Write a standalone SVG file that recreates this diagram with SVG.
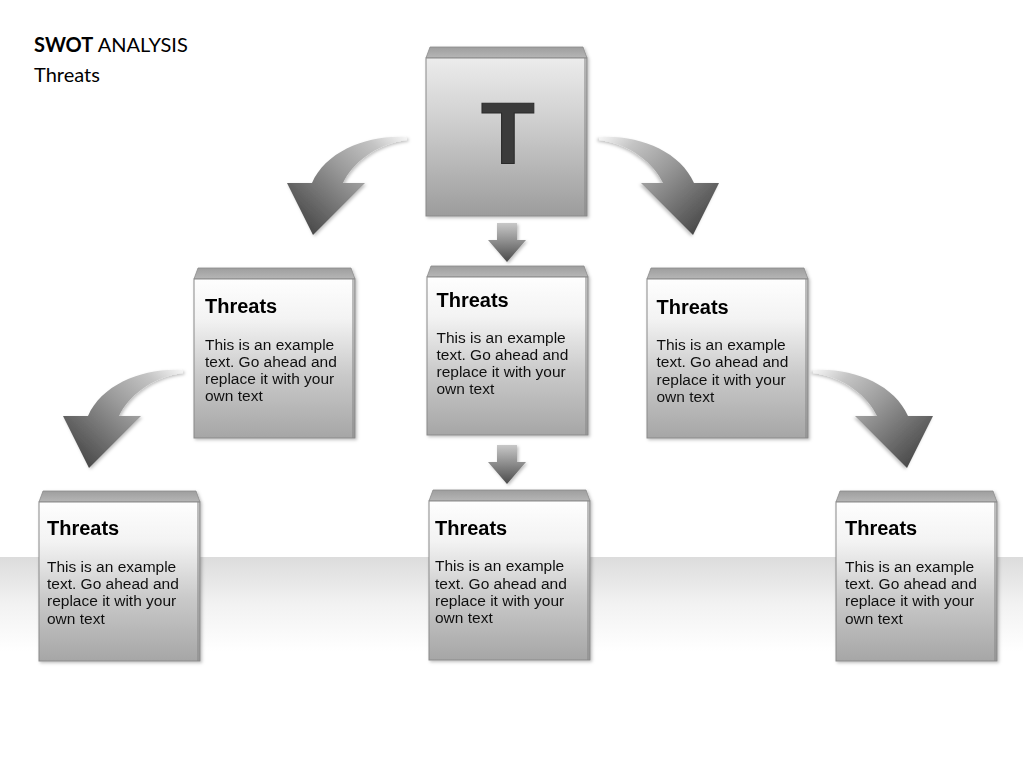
<svg xmlns="http://www.w3.org/2000/svg" xmlns:xlink="http://www.w3.org/1999/xlink" width="1023" height="767" viewBox="0 0 1023 767">
  <defs>
    <linearGradient id="band" x1="0" y1="0" x2="0" y2="1">
      <stop offset="0" stop-color="#dcdcdc"/>
      <stop offset="0.5" stop-color="#f2f2f2"/>
      <stop offset="1" stop-color="#ffffff"/>
    </linearGradient>
    <linearGradient id="front" x1="0" y1="0" x2="0" y2="1">
      <stop offset="0" stop-color="#fefefe"/>
      <stop offset="0.25" stop-color="#f3f3f3"/>
      <stop offset="0.6" stop-color="#cacaca"/>
      <stop offset="1" stop-color="#a6a6a6"/>
    </linearGradient>
    <linearGradient id="frontBig" x1="0" y1="0" x2="0" y2="1">
      <stop offset="0" stop-color="#ececec"/>
      <stop offset="0.4" stop-color="#cfcfcf"/>
      <stop offset="1" stop-color="#9c9c9c"/>
    </linearGradient>
    <linearGradient id="topFace" x1="0" y1="0" x2="0" y2="1">
      <stop offset="0" stop-color="#9e9e9e"/>
      <stop offset="1" stop-color="#b6b6b6"/>
    </linearGradient>
    <linearGradient id="curveGrad" gradientUnits="userSpaceOnUse" x1="405" y1="137" x2="313" y2="235">
      <stop offset="0" stop-color="#f4f4f4"/>
      <stop offset="0.2" stop-color="#c4c4c4"/>
      <stop offset="0.5" stop-color="#9a9a9a"/>
      <stop offset="1" stop-color="#4a4a4a"/>
    </linearGradient>
    <linearGradient id="downGrad" x1="0" y1="0" x2="0" y2="1">
      <stop offset="0" stop-color="#c8c8c8"/>
      <stop offset="0.45" stop-color="#909090"/>
      <stop offset="1" stop-color="#4a4a4a"/>
    </linearGradient>
    <filter id="shadow" x="-10%" y="-10%" width="130%" height="130%">
      <feDropShadow dx="1.5" dy="1.5" stdDeviation="1.5" flood-color="#000" flood-opacity="0.25"/>
    </filter>
    <path id="curveArrow" d="M407,137 C370,134 326,150 312,183 L287,183 L313,235 L365,183 L343,183 C352,164 375,144 407,140 Z"/>
    <path id="downArrow" d="M497,0 L517,0 L517,17 L526,17 L507,39 L488,17 L497,17 Z"/>
    <style>
      .top { fill: url(#topFace); stroke: #8c8c8c; stroke-width: 0.8; }
      .front { fill: url(#front); stroke: #8a8a8a; stroke-width: 1; }
      .edge { fill: #888; opacity: 0.55; }
      .h { font-family: "Liberation Sans", Arial, sans-serif; font-weight: bold; font-size: 20px; fill: #000; }
      .b { font-family: "Liberation Sans", Arial, sans-serif; font-size: 15.5px; fill: #111; }
      .ttl { font-family: Lato, "Open Sans", sans-serif; font-size: 20px; fill: #000; }
      .carrow { fill: url(#curveGrad); filter: url(#shadow); }
      .darrow { fill: url(#downGrad); filter: url(#shadow); }
    </style>
  </defs>

  <rect x="0" y="0" width="1023" height="767" fill="#ffffff"/>
  <rect x="0" y="557" width="1023" height="95" fill="url(#band)"/>

  <g id="title">
    <text class="ttl" x="34" y="52"><tspan font-weight="bold">SWOT</tspan> ANALYSIS</text>
    <text class="ttl" x="34" y="82">Threats</text>
  </g>

  <g id="connectors">
    <use xlink:href="#curveArrow" class="carrow"/>
    <use xlink:href="#curveArrow" class="carrow" transform="translate(1006,0) scale(-1,1)"/>
    <use xlink:href="#curveArrow" class="carrow" transform="translate(-224,233)"/>
    <use xlink:href="#curveArrow" class="carrow" transform="translate(1220,233) scale(-1,1)"/>
    <use xlink:href="#downArrow" class="darrow" transform="translate(0,223)"/>
    <use xlink:href="#downArrow" class="darrow" transform="translate(0,445)"/>
  </g>

  <g id="node-T" filter="url(#shadow)">
    <polygon class="top" points="430,47 583,47 587,58 426,58"/>
    <rect x="426" y="58" width="161" height="158" fill="url(#frontBig)" stroke="#8a8a8a" stroke-width="1"/>
    <rect class="edge" x="584" y="58" width="3" height="158"/>
    <text x="508" y="163" text-anchor="middle" font-family="Liberation Sans, Arial, sans-serif" font-weight="bold" font-size="88" fill="#3a3a3a" stroke="#2a2a2a" stroke-width="1">T</text>
  </g>

  <g id="node-mid-left" filter="url(#shadow)">
    <polygon class="top" points="198,268 351,268 355,279 194,279"/>
    <rect class="front" x="194" y="279" width="161" height="159"/>
    <rect class="edge" x="352" y="279" width="3" height="159"/>
    <text class="h" x="205" y="313">Threats</text>
    <text class="b" x="205" y="349.5">This is an example</text>
    <text class="b" x="205" y="366.8">text. Go ahead and</text>
    <text class="b" x="205" y="384.1">replace it with your</text>
    <text class="b" x="205" y="401.4">own text</text>
  </g>

  <g id="node-mid" filter="url(#shadow)">
    <polygon class="top" points="431,266 584,266 588,277 427,277"/>
    <rect class="front" x="427" y="277" width="161" height="158"/>
    <rect class="edge" x="585" y="277" width="3" height="158"/>
    <text class="h" x="436.5" y="306.7">Threats</text>
    <text class="b" x="436.5" y="342.5">This is an example</text>
    <text class="b" x="436.5" y="359.8">text. Go ahead and</text>
    <text class="b" x="436.5" y="377.1">replace it with your</text>
    <text class="b" x="436.5" y="394.4">own text</text>
  </g>

  <g id="node-mid-right" filter="url(#shadow)">
    <polygon class="top" points="651,268 804,268 808,279 647,279"/>
    <rect class="front" x="647" y="279" width="161" height="159"/>
    <rect class="edge" x="805" y="279" width="3" height="159"/>
    <text class="h" x="656.5" y="314">Threats</text>
    <text class="b" x="656.5" y="350">This is an example</text>
    <text class="b" x="656.5" y="367.3">text. Go ahead and</text>
    <text class="b" x="656.5" y="384.6">replace it with your</text>
    <text class="b" x="656.5" y="401.9">own text</text>
  </g>

  <g id="node-bottom-left" filter="url(#shadow)">
    <polygon class="top" points="43,491 196,491 200,502 39,502"/>
    <rect class="front" x="39" y="502" width="161" height="159"/>
    <rect class="edge" x="197" y="502" width="3" height="159"/>
    <text class="h" x="47" y="535">Threats</text>
    <text class="b" x="47" y="571.7">This is an example</text>
    <text class="b" x="47" y="589">text. Go ahead and</text>
    <text class="b" x="47" y="606.3">replace it with your</text>
    <text class="b" x="47" y="623.6">own text</text>
  </g>

  <g id="node-bottom-mid" filter="url(#shadow)">
    <polygon class="top" points="433,490 586,490 590,501 429,501"/>
    <rect class="front" x="429" y="501" width="161" height="159"/>
    <rect class="edge" x="587" y="501" width="3" height="159"/>
    <text class="h" x="435" y="534.5">Threats</text>
    <text class="b" x="435" y="571.2">This is an example</text>
    <text class="b" x="435" y="588.5">text. Go ahead and</text>
    <text class="b" x="435" y="605.8">replace it with your</text>
    <text class="b" x="435" y="623.1">own text</text>
  </g>

  <g id="node-bottom-right" filter="url(#shadow)">
    <polygon class="top" points="840,491 993,491 997,502 836,502"/>
    <rect class="front" x="836" y="502" width="161" height="159"/>
    <rect class="edge" x="994" y="502" width="3" height="159"/>
    <text class="h" x="845" y="535">Threats</text>
    <text class="b" x="845" y="571.7">This is an example</text>
    <text class="b" x="845" y="589">text. Go ahead and</text>
    <text class="b" x="845" y="606.3">replace it with your</text>
    <text class="b" x="845" y="623.6">own text</text>
  </g>
</svg>
